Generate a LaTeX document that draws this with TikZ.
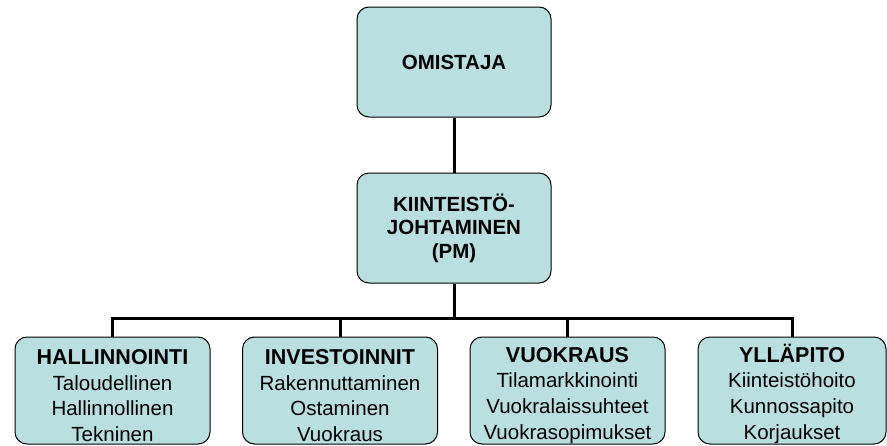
\documentclass[tikz,border=0pt]{standalone}
\usepackage{fontspec}
\setmainfont{Liberation Sans}
\definecolor{boxfill}{HTML}{B9DFE1}
\newcommand{\headline}[1]{\rule{0pt}{25pt}{\fontsize{21.5}{25.8}\selectfont\bfseries #1}}
\begin{document}
\begin{tikzpicture}[x=1pt,y=-1pt,
  orgbox/.style={draw=black, line width=1pt, fill=boxfill, rounded corners=12pt,
    minimum width=194pt, minimum height=110pt, inner sep=0pt, align=center},
  lowbox/.style={orgbox, minimum width=195pt, minimum height=107pt,
    font=\fontsize{20.5}{25.8}\selectfont},
  topfont/.style={font=\fontsize{20.5}{23.5}\selectfont\bfseries},
  conn/.style={draw=black, line width=3pt}]
\useasboundingbox (0,0) rectangle (887,445);
\node[orgbox, topfont] (own) at (454,62) {OMISTAJA};
\node[orgbox, topfont] (pm) at (454,228) {KIINTEISTÖ-\\JOHTAMINEN\\(PM)};
\coordinate (busy) at (0,318);
\node[lowbox] (b1) at (112.5,390.5) {\headline{HALLINNOINTI}\\Taloudellinen\\Hallinnollinen\\Tekninen};
\node[lowbox] (b2) at (340,390.5) {\headline{INVESTOINNIT}\\Rakennuttaminen\\Ostaminen\\Vuokraus};
\node[lowbox] (b3) at (567.5,390.5) {\headline{VUOKRAUS}\\Tilamarkkinointi\\Vuokralaissuhteet\\Vuokrasopimukset};
\node[lowbox, minimum width=188pt] (b4) at (792,390.5) {\headline{YLLÄPITO}\\Kiinteistöhoito\\Kunnossapito\\Korjaukset};
\draw[conn] (own) -- (pm);
\draw[conn] (pm.south) -- (pm.south |- busy);
\draw[conn] (b1.north) -- (b1.north |- busy) -- (b4.north |- busy) -- (b4.north);
\draw[conn] (b2.north) -- (b2.north |- busy);
\draw[conn] (b3.north) -- (b3.north |- busy);
\end{tikzpicture}
\end{document}
